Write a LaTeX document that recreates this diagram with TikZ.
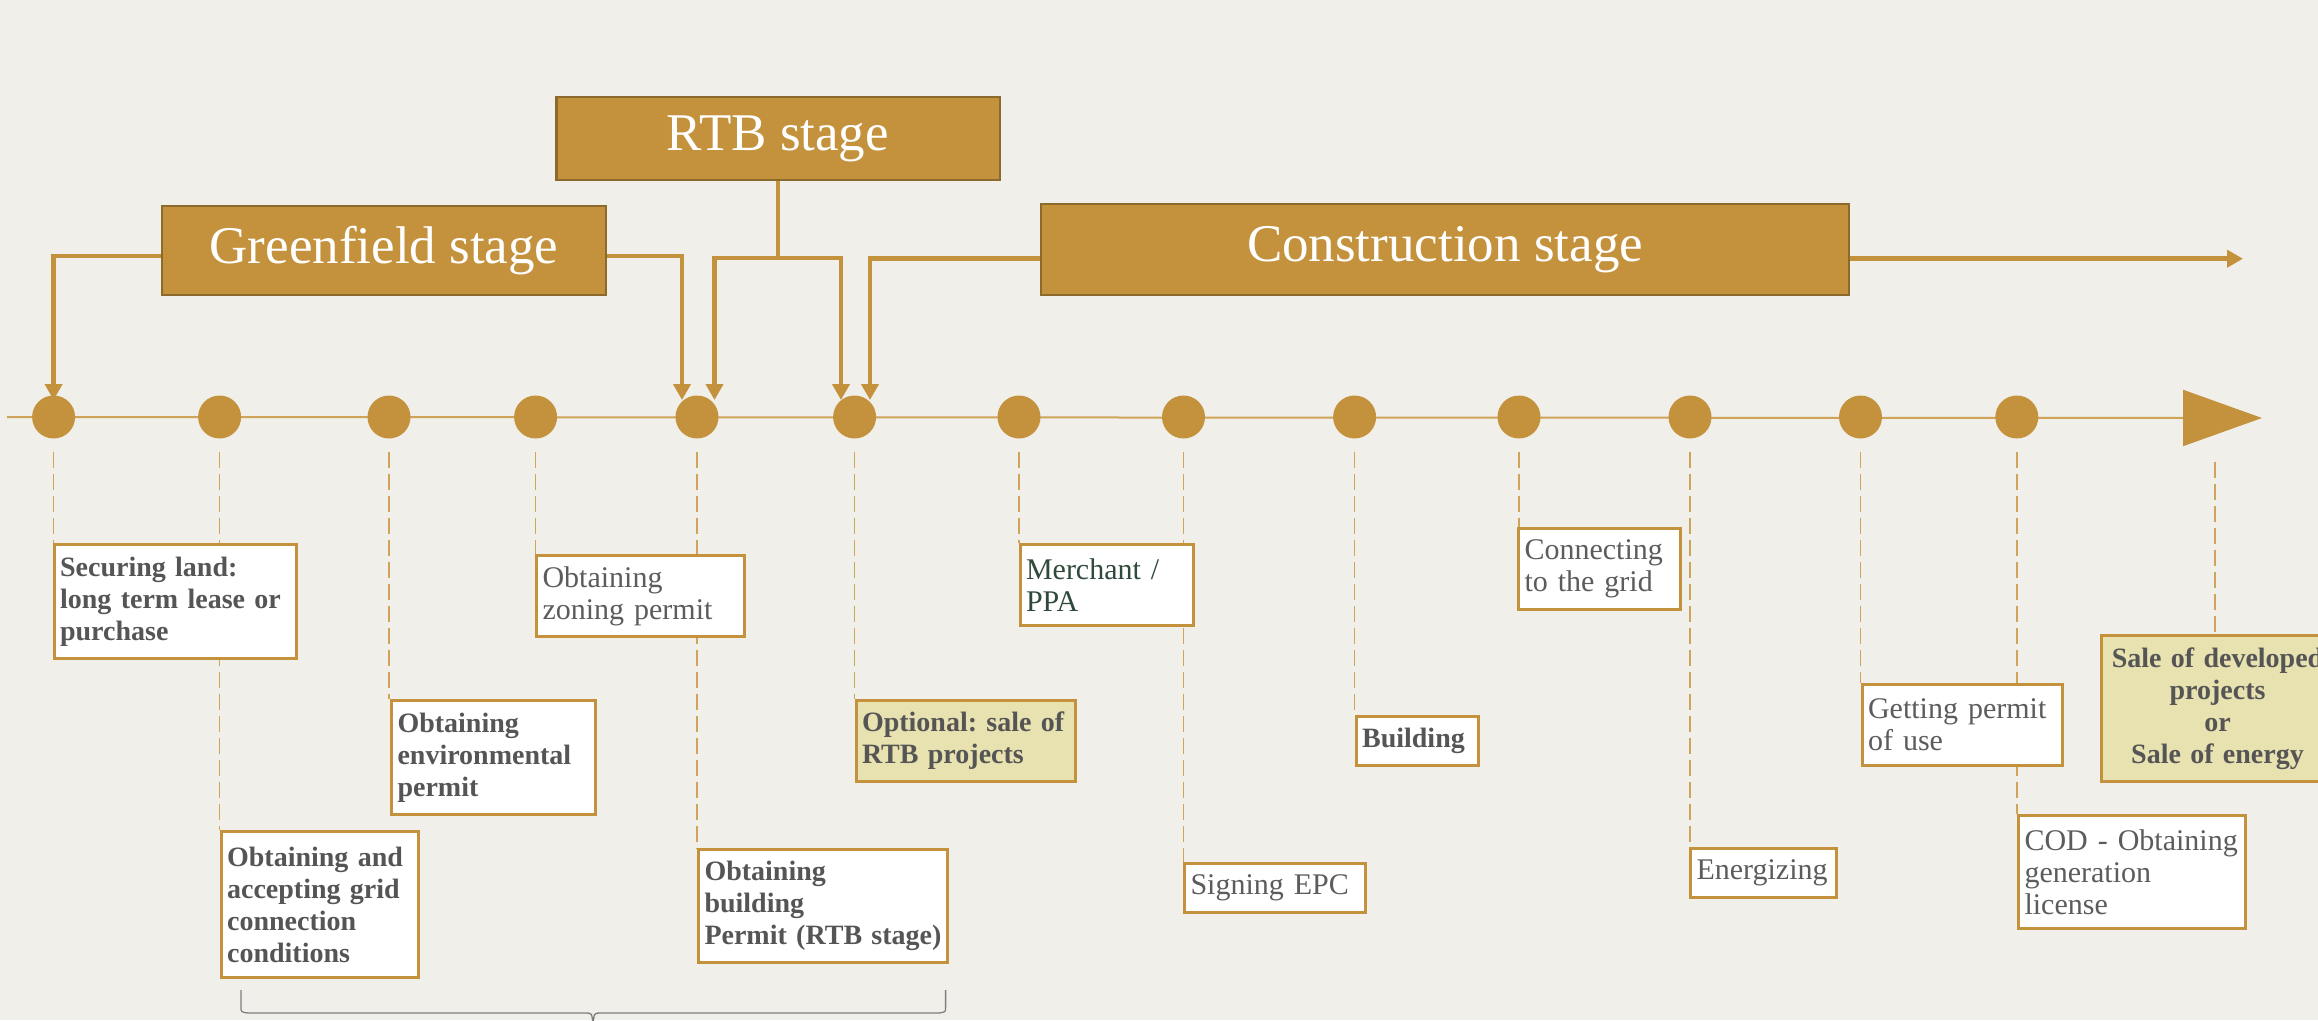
\documentclass[tikz,border=0pt]{standalone}
\usepackage{fontspec}
\setmainfont{Liberation Serif}
\usetikzlibrary{arrows.meta}
\definecolor{bg}{HTML}{F0EFEA}
\definecolor{gold}{HTML}{C4923C}
\definecolor{goldline}{HTML}{D0A458}
\definecolor{stageedge}{HTML}{8C6A2C}
\definecolor{txt}{HTML}{555555}
\definecolor{txtreg}{HTML}{5C5C5C}
\definecolor{txtgreen}{HTML}{2F4A3B}
\definecolor{khaki}{HTML}{E8E1B0}
\definecolor{bracegray}{HTML}{7E7E7E}
\pgfdeclarelayer{back}
\pgfdeclarelayer{lines}
\pgfsetlayers{back,lines,main}
\frenchspacing
\tikzset{
  stagebox/.style={draw=stageedge, line width=2.5pt, fill=gold, text=white,
    font=\fontsize{53pt}{60pt}\selectfont, inner sep=0pt},
  conn/.style={draw=gold, line width=4.5pt},
  connarrow/.style={conn, -{Triangle[width=17pt,length=16pt]}},
  tldot/.style={circle, fill=gold, minimum size=43pt, inner sep=0pt},
  tickline/.style={draw=goldline, line width=1.6pt, dash pattern=on 16pt off 6pt},
  timeline/.style={draw=goldline, line width=2pt},
  tbox/.style={draw=gold, line width=3pt, fill=white, anchor=north west,
    inner xsep=6pt, inner ysep=0pt, align=left, text=txtreg,
    font=\fontsize{30pt}{32pt}\selectfont},
  tboxb/.style={tbox, text=txt, font=\fontsize{28pt}{32pt}\selectfont\bfseries},
  bracket/.style={draw=bracegray, line width=1.3pt}
}
\begin{document}
\begin{tikzpicture}[x=1pt,y=-1pt]
\useasboundingbox (0,0) rectangle (2318,1020);
\begin{pgfonlayer}{back}
\fill[bg] (0,0) rectangle (2318,1020);
\end{pgfonlayer}

% timeline
\coordinate (tl0) at (7,417);
\coordinate (tl1) at (2262,418);
\draw[timeline, -{Triangle[width=56pt,length=79pt,color=gold,fill=gold]}] (tl0) -- (tl1);

% dots
\node[tldot] (d1) at (53.6,417) {};
\node[tldot] (d2) at (219.6,417) {};
\node[tldot] (d3) at (389,417) {};
\node[tldot] (d4) at (535.6,417) {};
\node[tldot] (d5) at (697,417) {};
\node[tldot] (d6) at (854.6,417) {};
\node[tldot] (d7) at (1019,417) {};
\node[tldot] (d8) at (1183.5,417) {};
\node[tldot] (d9) at (1354.6,417) {};
\node[tldot] (d10) at (1519,417) {};
\node[tldot] (d11) at (1690,417) {};
\node[tldot] (d12) at (1860.5,417) {};
\node[tldot] (d13) at (2016.8,417) {};
\coordinate (d14) at (2215,462);

% text boxes
\node[tboxb, text width=230pt, minimum height=114pt] (b1) at (52.6,543)
  {Securing land:\\long term lease or\\purchase};
\node[tboxb, text width=185.8pt, minimum height=146pt] (b2) at (219.6,830)
  {Obtaining and\\accepting grid\\connection\\conditions};
\node[tboxb, text width=192pt, minimum height=114pt] (b3) at (390,699)
  {Obtaining\\environmental\\permit};
\node[tbox, text width=196pt, minimum height=81pt] (b4) at (535,554)
  {Obtaining\\zoning permit};
\node[tboxb, text width=237pt, minimum height=113pt] (b5) at (697,848)
  {Obtaining\\building\\Permit (RTB stage)};
\node[tboxb, fill=khaki, text width=207.5pt, minimum height=81pt] (b6) at (854.5,699)
  {Optional: sale of\\RTB projects};
\node[tbox, text=txtgreen, text width=161.5pt, minimum height=81pt] (b7) at (1018.5,543)
  {Merchant /\\PPA};
\node[tbox, text width=169pt, minimum height=49pt] (b8) at (1183,862)
  {Signing EPC};
\node[tboxb, text width=110.4pt, minimum height=49pt] (b9) at (1354.6,715)
  {Building};
\node[tbox, text width=150pt, minimum height=81pt] (b10) at (1517,527)
  {Connecting\\to the grid};
\node[tbox, text width=134pt, minimum height=49pt] (b11) at (1689,847)
  {Energizing};
\node[tbox, text width=188pt, minimum height=81pt] (b12) at (1860.5,683)
  {Getting permit\\of use};
\node[tbox, text width=215pt, minimum height=113pt] (b13) at (2017,814)
  {COD - Obtaining\\generation\\license};
\node[tboxb, fill=khaki, align=center, text width=220pt, minimum height=146pt] (b14) at (2100,634)
  {Sale of developed\\projects\\or\\Sale of energy};

% dashed ticks
\begin{pgfonlayer}{lines}
\foreach \i in {1,...,13}{
  \draw[tickline] ([yshift=-13pt]d\i.south) -- (d\i |- b\i.north);
}
\draw[tickline] (d14) -- (d14 |- b14.north);
\end{pgfonlayer}

% stage boxes
\node[stagebox, minimum width=443.5pt, minimum height=83pt] (rtb) at (778,138.4) {RTB stage};
\node[stagebox, minimum width=444pt, minimum height=89pt] (gf) at (384,250.5) {Greenfield stage};
\node[stagebox, minimum width=808pt, minimum height=91pt] (cs) at (1445,249.5) {Construction stage};

% arrow targets
\coordinate (t1) at (53.6,400);
\coordinate (t2) at (682,400);
\coordinate (t3) at (714.5,400);
\coordinate (t4) at (841,400);
\coordinate (t5) at (870,400);
\coordinate (t6) at (2243,258.7);
\coordinate (rj) at (778,258);

% stage connectors
\draw[connarrow] ([yshift=-5.5pt]gf.west) -| (t1);
\draw[connarrow] ([yshift=-5.5pt]gf.east) -| (t2);
\draw[conn] (rtb.south) -- (rj);
\draw[connarrow] (rj) -| (t3);
\draw[connarrow] (rj) -| (t4);
\draw[connarrow] ([yshift=-9.2pt]cs.west) -| (t5);
\draw[connarrow] ([yshift=-9.2pt]cs.east) -- (t6);

% bracket under RTB group
\coordinate (k1) at (241,990);
\coordinate (k2) at (241,1007);
\coordinate (k3) at (248,1013);
\coordinate (k4) at (586,1013);
\coordinate (k5) at (593,1026);
\coordinate (k6) at (600,1013);
\coordinate (k7) at (939,1013);
\coordinate (k8) at (945.6,1007);
\coordinate (k9) at (945.6,990);
\draw[bracket] (k1) -- (k2) .. controls (241,1012) .. (k3) -- (k4)
  .. controls (592,1013) .. (k5) .. controls (594,1013) .. (k6) -- (k7)
  .. controls (945.6,1012) .. (k8) -- (k9);
\end{tikzpicture}
\end{document}
